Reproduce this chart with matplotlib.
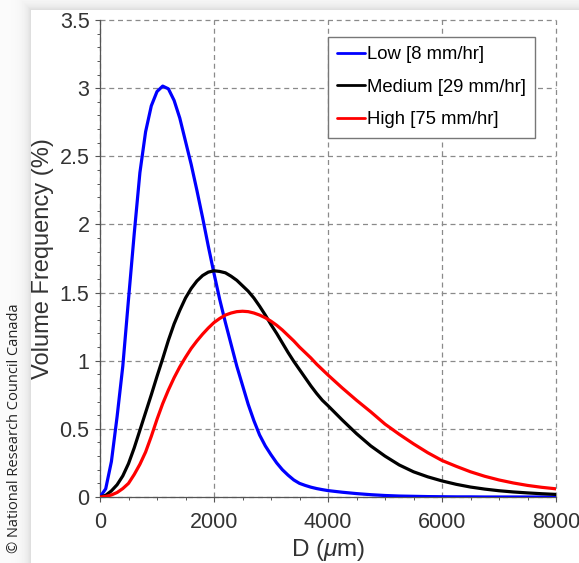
"""Volume frequency of raindrop diameters for three rain intensities."""
import numpy as np
import matplotlib
matplotlib.use("Agg")
import matplotlib.pyplot as plt
import matplotlib.ticker as ticker

plt.rcParams["font.family"] = ["Liberation Sans", "DejaVu Sans"]
plt.rcParams["mathtext.fontset"] = "custom"
plt.rcParams["mathtext.rm"] = "Liberation Sans"
plt.rcParams["mathtext.it"] = "Liberation Sans:italic"

# --- Data ---
D_UM = [0, 100, 200, 300, 400, 500, 600, 700, 800, 900,
        1000, 1100, 1200, 1300, 1400, 1500, 1600, 1700, 1800, 1900,
        2000, 2100, 2200, 2300, 2400, 2500, 2600, 2700, 2800, 2900,
        3000, 3100, 3200, 3300, 3400, 3500, 3600, 3700, 3800, 3900,
        4000, 4250, 4500, 4750, 5000, 5250, 5500, 5750,
        6000, 6250, 6500, 6750, 7000, 7250, 7500, 7750, 8000]

LOW = [0, 0.06, 0.26, 0.59, 0.96, 1.45, 1.93, 2.38, 2.68, 2.87,
       2.975, 3.015, 2.995, 2.91, 2.78, 2.61, 2.44, 2.25, 2.05, 1.84,
       1.64, 1.45, 1.28, 1.12, 0.96, 0.82, 0.68, 0.56, 0.455, 0.375,
       0.31, 0.25, 0.20, 0.16, 0.125, 0.10, 0.085, 0.072, 0.062, 0.054,
       0.047, 0.035, 0.025, 0.017, 0.011, 0.007, 0.005, 0.003,
       0.002, 0.001, 0.001, 0, 0, 0, 0, 0, 0]

MEDIUM = [0, 0.012, 0.045, 0.09, 0.155, 0.245, 0.36, 0.49, 0.62, 0.75,
          0.885, 1.015, 1.15, 1.27, 1.37, 1.46, 1.53, 1.585, 1.625, 1.65,
          1.66, 1.655, 1.645, 1.62, 1.59, 1.55, 1.51, 1.46, 1.40, 1.335,
          1.265, 1.20, 1.13, 1.06, 0.995, 0.935, 0.875, 0.815, 0.76, 0.71,
          0.67, 0.565, 0.465, 0.375, 0.30, 0.235, 0.185, 0.148,
          0.118, 0.093, 0.073, 0.058, 0.046, 0.037, 0.03, 0.024, 0.019]

HIGH = [0, 0.004, 0.015, 0.033, 0.062, 0.10, 0.165, 0.24, 0.33, 0.445,
        0.57, 0.685, 0.785, 0.875, 0.955, 1.025, 1.09, 1.145, 1.195, 1.24,
        1.28, 1.31, 1.335, 1.35, 1.36, 1.363, 1.36, 1.35, 1.335, 1.315,
        1.29, 1.26, 1.225, 1.185, 1.145, 1.10, 1.06, 1.02, 0.975, 0.935,
        0.895, 0.80, 0.71, 0.625, 0.535, 0.46, 0.39, 0.325,
        0.268, 0.225, 0.185, 0.152, 0.125, 0.103, 0.085, 0.071, 0.06]

SERIES = [
    ("Low [8 mm/hr]", LOW, "#0000ff"),
    ("Medium [29 mm/hr]", MEDIUM, "#000000"),
    ("High [75 mm/hr]", HIGH, "#ff0000"),
]

W, H = 579, 563

fig = plt.figure(figsize=(W / 100, H / 100), dpi=100)

# soft grey page margin / shadow behind the white panel (left strip + top)
bg = fig.add_axes([0, 0, 1, 1], zorder=-10)
xx, yy = np.meshgrid(np.arange(W), np.arange(H))
dx = np.clip(31 - xx, 0, None)
dy = np.clip(10 - yy, 0, None)
outside = (dx > 0) | (dy > 0)
dist = np.where(outside, np.maximum(dx, dy), 0)
shade = np.where(outside, 0.985 - 0.13 * np.exp(-dist / 6.0), 1.0)
bg.imshow(shade, cmap="gray", vmin=0, vmax=1, aspect="auto",
          interpolation="bilinear")
bg.axis("off")

fig.text(15 / W, 1 - 428 / H, "\u00a9 National Research Council Canada",
         rotation=90, ha="center", va="center", fontsize=10.5,
         color="#222222", family=["Open Sans", "DejaVu Sans"])

ax = fig.add_axes([100 / W, 1 - 497 / H, 456 / W, 477 / H])
ax.set_facecolor("none")

for label, vals, color in SERIES:
    ax.plot(D_UM, vals, color=color, linewidth=2.3, label=label,
            solid_joinstyle="round", solid_capstyle="round", zorder=3)

ax.set_xlim(0, 8000)
ax.set_ylim(0, 3.5)
ax.xaxis.set_major_locator(ticker.MultipleLocator(2000))
ax.xaxis.set_minor_locator(ticker.MultipleLocator(500))
ax.yaxis.set_major_locator(ticker.MultipleLocator(0.5))
ax.yaxis.set_minor_locator(ticker.MultipleLocator(0.1))
ax.yaxis.set_major_formatter(ticker.FormatStrFormatter("%g"))

ax.grid(True, which="major", color="#8a8a8a", linestyle=(0, (4, 3)),
        linewidth=0.9)
for gl in ax.get_xgridlines() + ax.get_ygridlines():
    gl.set_clip_on(False)
ax.set_axisbelow(True)

ax.spines["top"].set_visible(False)
ax.spines["right"].set_visible(False)
for s in ("left", "bottom"):
    ax.spines[s].set_color("#555555")
    ax.spines[s].set_linewidth(0.9)

ax.tick_params(which="major", direction="out", length=3.5, width=0.8,
               colors="#555555", labelcolor="#333333", labelsize=15.5)
ax.tick_params(axis="x", which="major", pad=7)
ax.tick_params(axis="y", which="major", pad=4)
ax.tick_params(which="minor", direction="out", length=2.2, width=0.7,
               colors="#555555")

ax.set_xlabel(r"D ($\mu$m)", fontsize=17.5, color="#333333", labelpad=3)
ax.set_ylabel("Volume Frequency (%)", fontsize=17, color="#333333",
              labelpad=4)

leg = ax.legend(loc="upper left", bbox_to_anchor=(228 / 456, 460 / 477),
                borderaxespad=0, fontsize=13.3, frameon=True, fancybox=False,
                edgecolor="#777777", framealpha=1, handlelength=1.5,
                handletextpad=0.1, labelspacing=0.84, borderpad=0.5)
leg.get_frame().set_linewidth(1.0)
for line in leg.get_lines():
    line.set_linewidth(2.0)

fig.savefig("out.png", dpi=100, facecolor="white")
